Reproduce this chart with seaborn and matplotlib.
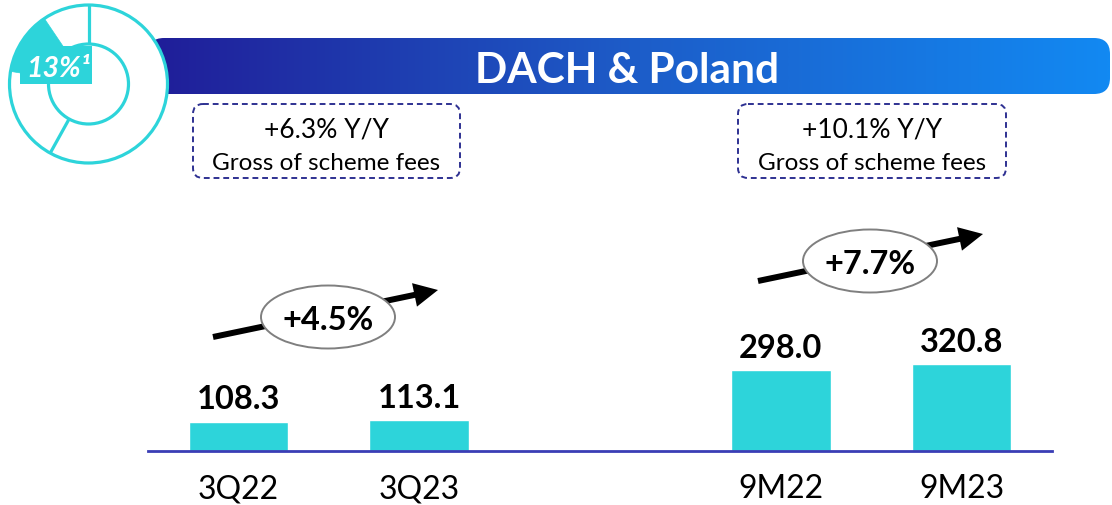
import numpy as np
import pandas as pd
import matplotlib
matplotlib.use("Agg")
import matplotlib.pyplot as plt
import seaborn as sns
from matplotlib.patches import FancyBboxPatch, Circle, Wedge, Rectangle, Ellipse, FancyArrow
from matplotlib.colors import LinearSegmentedColormap

# ---------------- data ----------------
categories = ["3Q22", "3Q23", "9M22", "9M23"]
values = [108.3, 113.1, 298.0, 320.8]
order = ["3Q22", "3Q23", " ", "9M22", "9M23"]
title = "DACH & Poland"
share_label = "13%¹"
share_pct = 13
yy_labels = ["+6.3% Y/Y", "+10.1% Y/Y"]
yy_sub = "Gross of scheme fees"
growth_labels = ["+4.5%", "+7.7%"]

CYAN = "#2DD4DA"
NAVY = "#2E3192"

sns.set_theme(style="white")
plt.rcParams["font.family"] = ["Lato", "DejaVu Sans"]

W, H = 1112, 506
fig = plt.figure(figsize=(W / 100, H / 100), dpi=100)

# ---------------- bars ----------------
ax = fig.add_axes([148 / W, 54 / H, (1052 - 148) / W, 252 / H])
df = pd.DataFrame({"period": categories, "value": values})
sns.barplot(data=df, x="period", y="value", order=order, color=CYAN,
            saturation=1, width=0.55, ax=ax, zorder=2)
ax.set_xlim(-0.5, 4.5)
ax.set_ylim(0, 932)
for c in ax.containers:
    ax.bar_label(c, fmt="%.1f", padding=6, fontsize=23.5, fontweight="bold",
                 color="black")
ax.set_xticks([0, 1, 3, 4])
ax.set_xticklabels(categories, fontsize=23, color="black")
ax.tick_params(axis="x", length=0, pad=16)
ax.set_yticks([])
ax.set_xlabel("")
ax.set_ylabel("")
for s in ["top", "left", "right"]:
    ax.spines[s].set_visible(False)
ax.spines["bottom"].set_color("#3A3DB5")
ax.spines["bottom"].set_linewidth(2)
ax.patch.set_alpha(0)

# ---------------- overlay (pixel coords) ----------------
ov = fig.add_axes([0, 0, 1, 1], zorder=5)
ov.set_xlim(0, W)
ov.set_ylim(H, 0)
ov.axis("off")
ov.patch.set_alpha(0)

# banner with gradient
banner = FancyBboxPatch((148, 39), 1110 - 148, 56,
                        boxstyle="round,pad=0,rounding_size=16",
                        facecolor="none", edgecolor="none")
ov.add_patch(banner)
grad = np.linspace(0, 1, 512)[None, :]
cmap = LinearSegmentedColormap.from_list("bn", ["#201D98", "#1D5CC8", "#1289F2"])
im = ov.imshow(grad, extent=(148, 1110, 95, 39), cmap=cmap, aspect="auto", zorder=1)
im.set_clip_path(banner)
ov.set_xlim(0, W)
ov.set_ylim(H, 0)
ov.text(627, 83, title, color="white", fontsize=30.5, fontweight="bold",
        ha="center", va="baseline", zorder=3)

# donut
cx, cy, R, r = 88.5, 85, 79, 40
ov.add_patch(Circle((cx, cy), R, facecolor="white", edgecolor=CYAN, lw=2.3, zorder=4))
a0 = 124
a1 = a0 + share_pct * 360 / 100
ov.add_patch(Wedge((cx, cy), R, -a1, -a0, width=R - r, facecolor=CYAN,
                   edgecolor=CYAN, lw=0.5, zorder=5))
ov.add_patch(Circle((cx, cy), r, facecolor="white", edgecolor=CYAN, lw=2.3, zorder=5))
for ang in (90, 241):
    t = np.deg2rad(ang)
    ov.plot([cx + r * np.cos(t), cx + R * np.cos(t)],
            [cy - r * np.sin(t), cy - R * np.sin(t)], color=CYAN, lw=2.3, zorder=6,
            solid_capstyle="butt")
ov.add_patch(Rectangle((20, 47), 72, 38, facecolor=CYAN, edgecolor="none", zorder=7))
ov.text(58, 77, share_label, color="white", fontsize=20.5, fontweight="bold",
        fontstyle="italic", ha="center", va="baseline", zorder=8)

# dashed Y/Y boxes
for (x0, x1), l1 in zip([(193, 460), (738, 1006)], yy_labels):
    ov.add_patch(FancyBboxPatch((x0, 105), x1 - x0, 74,
                                boxstyle="round,pad=0,rounding_size=10",
                                facecolor="white", edgecolor=NAVY, lw=1.4,
                                linestyle=(0, (3, 2)), zorder=3))
    xc = (x0 + x1) / 2
    ov.text(xc, 137, l1, fontsize=19, ha="center", va="baseline", color="black", zorder=4)
    ov.text(xc, 170, yy_sub, fontsize=17.5, ha="center", va="baseline", color="black", zorder=4)

# growth arrows + ellipses
for (tx, ty), (ex, ey), lab in zip([(213, 338), (758, 282)], [(328, 318), (870, 262)],
                                   growth_labels):
    ov.add_patch(FancyArrow(tx, ty, 225, -47, width=6, head_width=24, head_length=24,
                            length_includes_head=True, color="black", lw=0, zorder=3))
    ov.add_patch(Ellipse((ex, ey), 134, 63, facecolor="white", edgecolor="#7F7F7F",
                         lw=1.4, zorder=4))
    ov.text(ex, ey + 12, lab, fontsize=23.5, fontweight="bold", ha="center",
            va="baseline", color="black", zorder=5)

fig.savefig("out.png", dpi=100)
